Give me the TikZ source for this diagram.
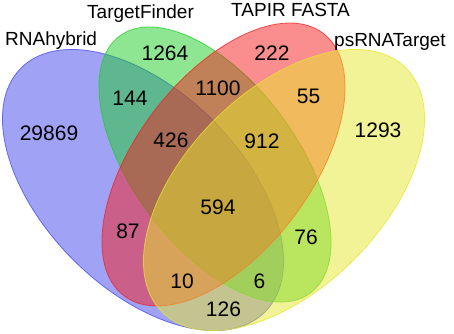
\documentclass[tikz,border=0pt]{standalone}
\usepackage{fontspec}
\setmainfont{Liberation Sans}
\definecolor{cblue}{RGB}{65,70,235}
\definecolor{cgreen}{RGB}{30,205,40}
\definecolor{cred}{RGB}{245,30,30}
\definecolor{cyellow}{RGB}{230,230,45}
\tikzset{
  setshape/.style={fill=#1, draw=#1, fill opacity=0.5, draw opacity=0.75, line width=0.8pt},
  num/.style={inner sep=0pt, font=\fontsize{21}{25}\selectfont, text=black},
  setlabel/.style={inner sep=0pt, anchor=base west, font=\fontsize{19}{23}\selectfont, text=black}
}
\begin{document}
\begin{tikzpicture}[x=1pt,y=1pt]
\useasboundingbox (0,0) rectangle (454,333);
% ellipses (pixel coords, y up)
\draw[setshape=cblue, shift={(143,143)}, rotate=-45] (0,0) ellipse [x radius=172.5, y radius=98.7];
\draw[setshape=cgreen, shift={(215,168.5)}, rotate=-53.4] (0,0) ellipse [x radius=160, y radius=82.3];
\draw[setshape=cred, shift={(223.5,168.5)}, rotate=52.8] (0,0) ellipse [x radius=164.7, y radius=87.5];
\draw[setshape=cyellow, shift={(284,143)}, rotate=45] (0,0) ellipse [x radius=172.5, y radius=98.7];
% set labels
\node[setlabel] (lA) at (5,288) {RNAhybrid};
\node[setlabel] (lB) at (87,314.7) {TargetFinder};
\node[setlabel] (lC) at (231,316.5) {TAPIR FASTA};
\node[setlabel] (lD) at (334,286.5) {psRNATarget};
% region counts
\node[num] (n1) at (49,199.5) {29869};
\node[num] (n2) at (165,280) {1264};
\node[num] (n3) at (272,280) {222};
\node[num] (n4) at (378,202.5) {1293};
\node[num] (n5) at (130,235) {144};
\node[num] (n6) at (218,245) {1100};
\node[num] (n7) at (308.5,237) {55};
\node[num] (n8) at (171,193) {426};
\node[num] (n9) at (262,192) {912};
\node[num] (n10) at (218,126) {594};
\node[num] (n11) at (128,101.5) {87};
\node[num] (n12) at (306,96) {76};
\node[num] (n13) at (182,51.5) {10};
\node[num] (n14) at (259.5,51.5) {6};
\node[num] (n15) at (223.5,24) {126};
\end{tikzpicture}
\end{document}
